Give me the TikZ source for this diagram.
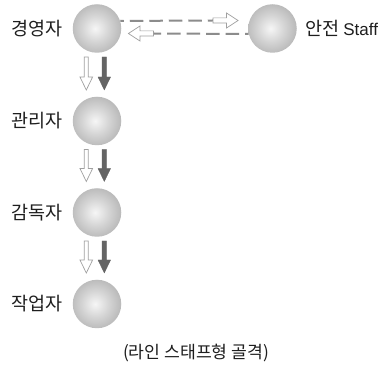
\documentclass[tikz,border=0pt]{standalone}
\usepackage{fontspec}
\newfontfamily\kr{Noto Sans CJK KR}
\newfontfamily\lat{Liberation Sans}
\usetikzlibrary{calc}
\definecolor{ballc}{HTML}{F6F6F6}
\definecolor{ballm}{HTML}{D4D4D4}
\definecolor{balln}{HTML}{A8A8A8}
\definecolor{balle}{HTML}{828282}
\definecolor{dashc}{HTML}{8C8C8C}
\definecolor{hollowc}{HTML}{A0A0A0}
\definecolor{darkarr}{HTML}{646464}
\definecolor{txt}{HTML}{1E1E1E}
\pgfdeclareradialshading{ball}{\pgfpoint{-2bp}{0bp}}{color(0bp)=(ballc); color(14bp)=(ballm); color(34bp)=(balln); color(50bp)=(balle); color(75bp)=(balle)}
\tikzset{
  ball/.style={circle, inner sep=0pt, minimum size=48.5pt, shading=ball},
  lbl/.style={font=\kr\fontsize{18.5}{22}\selectfont, text=txt, inner sep=0pt},
  caplbl/.style={font=\kr\fontsize{17.2}{20}\selectfont, text=txt, inner sep=0pt},
  dashline/.style={draw=dashc, line width=2pt, dash pattern=on 13.5pt off 6pt},
  blockarrow/.style n args={3}{to path={
    ($(\tikztostart)!#1!90:(\tikztotarget)$)
    -- ($($(\tikztotarget)!#3!(\tikztostart)$)!#1!90:(\tikztotarget)$)
    -- ($($(\tikztotarget)!#3!(\tikztostart)$)!#2!90:(\tikztotarget)$)
    -- (\tikztotarget)
    -- ($($(\tikztotarget)!#3!(\tikztostart)$)!#2!-90:(\tikztotarget)$)
    -- ($($(\tikztotarget)!#3!(\tikztostart)$)!#1!-90:(\tikztotarget)$)
    -- ($(\tikztostart)!#1!-90:(\tikztotarget)$)
    -- cycle}},
  hollowv/.style={draw=hollowc, fill=white, line width=0.7pt, blockarrow={2pt}{6.3pt}{13pt}},
  darkv/.style={fill=darkarr, draw=darkarr, line width=0.3pt, blockarrow={2.2pt}{6.3pt}{13pt}},
  hollowh/.style={draw=hollowc, fill=white, line width=0.7pt, blockarrow={2.6pt}{7.5pt}{11.5pt}}
}
\begin{document}
\begin{tikzpicture}[x=1pt,y=-1pt]
\path[fill=white,use as bounding box] (0,0) rectangle (381,366);
% balls
\node[ball] (m1) at (97,28.5) {};
\node[ball] (m2) at (97,121) {};
\node[ball] (m3) at (97,212.5) {};
\node[ball] (m4) at (97,304) {};
\node[ball] (st) at (272.5,28.5) {};
% labels
\node[lbl, anchor=east] (l1) at (63,28.5) {경영자};
\node[lbl, anchor=east] (l2) at (63,121) {관리자};
\node[lbl, anchor=east] (l3) at (63,212.5) {감독자};
\node[lbl, anchor=east] (l4) at (63,304) {작업자};
\node[lbl, anchor=west] (l5) at (305,28.5) {안전 {\lat\fontsize{17}{20}\selectfont Staff}};
\node[caplbl] (cap) at (196,353) {(라인 스태프형 골격)};
% staff connectors
\coordinate (ta) at ($(st.west)+(-10,-8)$);
\coordinate (ts) at ($(ta)+(-25,0)$);
\draw[dashline, dash phase=10pt] (m1.18) -- (ts);
\draw[hollowh] (ts) to (ta);
\coordinate (ba) at ($(m1.east)+(7,5)$);
\coordinate (bs) at ($(ba)+(25,0)$);
\draw[dashline, dash phase=10pt] (st.193) -- (bs);
\draw[hollowh] (bs) to (ba);
% line arrows
\foreach \a/\b in {m1/m2, m2/m3, m3/m4}{
  \coordinate (h\a s) at ($(\a.center)+(-10.7,28.5)$);
  \coordinate (h\a t) at ($(\b.center)+(-10.7,-31)$);
  \draw[hollowv] (h\a s) to (h\a t);
  \coordinate (d\a s) at ($(\a.center)+(7.3,28.5)$);
  \coordinate (d\a t) at ($(\b.center)+(7.3,-31)$);
  \draw[darkv] (d\a s) to (d\a t);
}
\end{tikzpicture}
\end{document}
